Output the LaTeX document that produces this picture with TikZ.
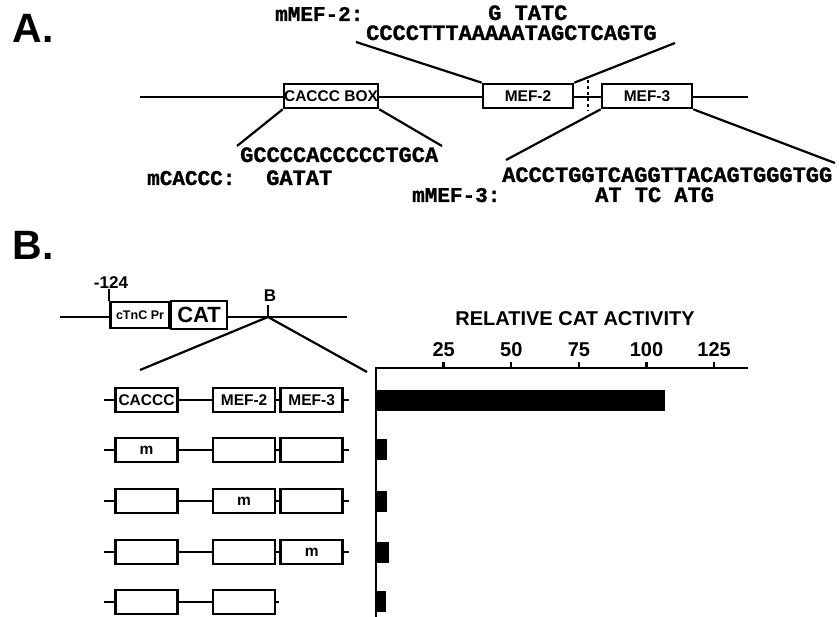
\documentclass[tikz,border=0pt]{standalone}
\usepackage{fontspec}
\setmainfont{Liberation Sans}
\newfontfamily\seqfont{Liberation Mono}[BoldFeatures={FakeBold=1.2}]
\usetikzlibrary{positioning}

\begin{document}
\begin{tikzpicture}[
    x=1pt, y=-1pt,
    font=\bfseries,
    node distance=33pt and 33pt,
    % Styles
    panel/.style={font=\fontsize{41}{41}\selectfont\bfseries, inner sep=0pt},
    seq/.style={font=\fontsize{22}{22}\selectfont\seqfont\bfseries, inner sep=0pt, anchor=base west},
    seqlab/.style={seq, font=\fontsize{21}{21}\selectfont\seqfont\bfseries},
    site/.style={rectangle, draw, line width=2.6pt, fill=white, minimum width=#1, minimum height=24pt, inner sep=0pt, font=\fontsize{15.5}{15.5}\selectfont\bfseries},
    site/.default=62pt,
    label/.style={font=\fontsize{#1}{#1}\selectfont\bfseries, inner sep=0pt},
    dna/.style={-, line width=2.2pt},
    axis/.style={-, line width=2.4pt},
    bar/.style={fill=black, draw=none}
]
\useasboundingbox (0,0) rectangle (839,617);

% --- Panel A: promoter with sites ---
\node[panel] (labA) at (33,28) {A.};
\coordinate (aL) at (140,97);
\coordinate (aR) at (748,97);
\draw[dna] (aL) -- (aR);
\node[site=94pt] (cbox) at (331,96) {CACCC BOX};
\node[site=90pt] (mef2) at (528,96) {MEF-2};
\node[site=90pt] (mef3) at (647,96) {MEF-3};
\coordinate (dTop) at (588,80);
\coordinate (dBot) at (588,111);
\draw[dashed, line width=1.6pt] (dTop) -- (dBot);

% --- Panel A: sequences ---
\node[seqlab] (m2lab) at (275,21) {mMEF-2:};
\node[seq] (m2mut) at (488,20) {G\hphantom{C}TATC};
\node[seq] (m2seq) at (366,40) {CCCCTTTAAAAATAGCTCAGTG};
\node[seq] (cseq) at (240,162) {GCCCCACCCCCTGCA};
\node[seqlab] (clab) at (147,185) {mCACCC:};
\node[seq] (cmut) at (266,185) {GATAT};
\node[seq] (m3seq) at (502,182) {ACCCTGGTCAGGTTACAGTGGGTGG};
\node[seqlab] (m3lab) at (412,202) {mMEF-3:};
\node[seq] (m3mut) at (595,202) {AT\hphantom{C}TC\hphantom{C}ATG};

% --- Panel A: zoom lines ---
\coordinate (z2a) at (356,42);
\coordinate (z2b) at (675,43);
\coordinate (zca) at (237,146);
\coordinate (zcb) at (442,146);
\coordinate (z3a) at (506,160);
\coordinate (z3b) at (835,163);
\draw[dna] (mef2.north west) -- (z2a);
\draw[dna] (mef2.north east) -- (z2b);
\draw[dna] (cbox.south west) -- (zca);
\draw[dna] (cbox.south east) -- (zcb);
\draw[dna] (mef3.south west) -- (z3a);
\draw[dna] (mef3.south east) -- (z3b);

% --- Panel B: reporter construct ---
\node[panel] (labB) at (33,245) {B.};
\coordinate (bL) at (60,317);
\coordinate (bR) at (347,317);
\draw[dna] (bL) -- (bR);
\node[site=59pt, minimum height=26pt, font=\fontsize{12.5}{12.5}\selectfont\bfseries] (ctnc) at (140,315) {cTnC Pr};
\node[site=56pt, minimum height=28pt, font=\fontsize{22}{22}\selectfont\bfseries, right=-1pt of ctnc] (cat) {CAT};
\node[label=17] (pos) at (111,283) {-124};
\draw[dna] (ctnc.north west) -- (ctnc.north west |- pos.south);
\node[label=17] (ins) at (270,296) {B};
\coordinate (insTop) at (268,305);
\coordinate (insPt) at (268,317);
\draw[dna] (insTop) -- (insPt);
\coordinate (fanL) at (140,370);
\coordinate (fanR) at (367,372);
\draw[dna] (insPt) -- (fanL);
\draw[dna] (insPt) -- (fanR);

% --- Panel B: mutant constructs ---
\foreach \y/\ta/\tb/\tc [count=\i] in {400/CACCC/MEF-2/MEF-3, 450/m/{}/{}, 501/{}/m/{}, 552/{}/{}/m}{
    \coordinate (rL\i) at (104,\y);
    \coordinate (rR\i) at (349,\y);
    \draw[dna] (rL\i) -- (rR\i);
    \node[site] (c\i) at (146.5,\y) {\ta};
    \node[site, right=of c\i] (e\i) {\tb};
    \node[site, right=3pt of e\i] (f\i) {\tc};
}
\coordinate (rL5) at (104,602);
\coordinate (rR5) at (279,602);
\draw[dna] (rL5) -- (rR5);
\node[site] (c5) at (146.5,602) {};
\node[site, right=of c5] (e5) {};

% --- Panel B: activity chart ---
\coordinate (org) at (376,368);
\coordinate (xEnd) at (748,368);
\coordinate (yEnd) at (376,617);
\draw[axis] (yEnd) -- (org) -- (xEnd);
\node[label=20] (actTitle) at (575,319) {RELATIVE CAT ACTIVITY};
\foreach \v in {25,50,...,125}{
    \draw[axis] ({376+\v*2.705},368) -- ++(0,-6);
    \node[label=20] (t\v) at ({376+\v*2.705},350) {\v};
}
\foreach \y/\v in {400.5/107, 449.5/4, 502/4, 552.5/4.7, 601.5/3.7}
    \fill[bar] (376,{\y-10.5}) rectangle ({376+\v*2.705},{\y+10.5});

\end{tikzpicture}
\end{document}
